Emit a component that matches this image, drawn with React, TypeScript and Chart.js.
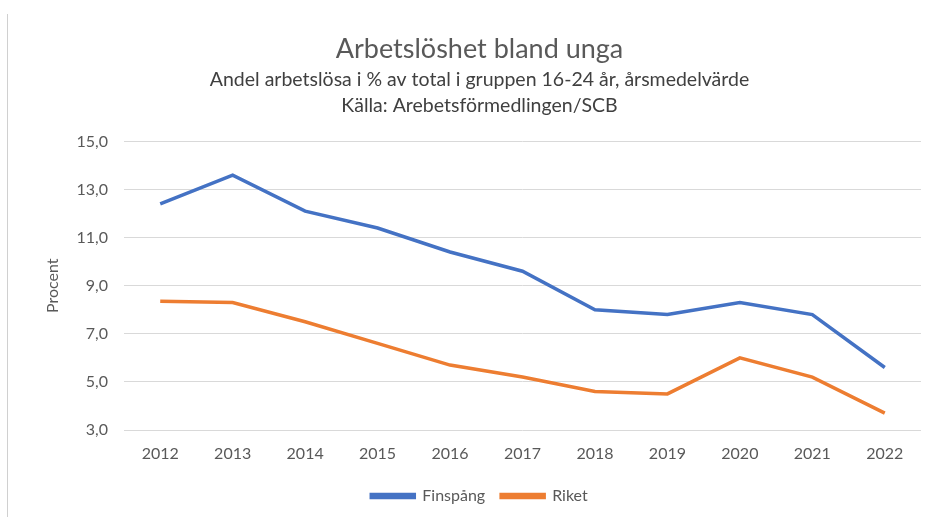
import React, { useEffect, useRef } from "react";
import { Chart, registerables } from "chart.js";

Chart.register(...registerables);

const years = ["2012", "2013", "2014", "2015", "2016", "2017", "2018", "2019", "2020", "2021", "2022"];
const finspang = [12.4, 13.6, 12.1, 11.4, 10.4, 9.6, 8.0, 7.8, 8.3, 7.8, 5.6];
const riket = [8.35, 8.3, 7.5, 6.6, 5.7, 5.2, 4.6, 4.5, 6.0, 5.2, 3.7];
const titleText = "Arbetslöshet bland unga";
const subtitleLines = [
  "Andel arbetslösa i % av total i gruppen 16-24 år, årsmedelvärde",
  "Källa: Arebetsförmedlingen/SCB",
];
const yAxisLabel = "Procent";

const FONT = "Lato, 'Open Sans', sans-serif";
const GREY = "#595959";

export default function App() {
  const ref = useRef<HTMLCanvasElement | null>(null);
  useEffect(() => {
    document.body.style.margin = "0";
    const ctx = ref.current!;
    const chart = new Chart(ctx, {
      type: "line",
      data: {
        labels: years,
        datasets: [
          {
            label: "Finspång",
            data: finspang,
            borderColor: "#4472C4",
            backgroundColor: "#4472C4",
            borderWidth: 3.5,
            pointRadius: 0,
            tension: 0,
          },
          {
            label: "Riket",
            data: riket,
            borderColor: "#ED7D31",
            backgroundColor: "#ED7D31",
            borderWidth: 3.5,
            pointRadius: 0,
            tension: 0,
          },
        ],
      },
      options: {
        animation: false,
        responsive: false,
        maintainAspectRatio: false,
        layout: { padding: { left: 38, right: 10, top: 0, bottom: 3 } },
        plugins: {
          title: {
            display: true,
            text: titleText,
            color: GREY,
            font: { family: FONT, size: 27, weight: "normal", lineHeight: 1.2 },
            padding: { top: 33, bottom: 1 },
          },
          subtitle: {
            display: true,
            text: subtitleLines,
            color: "#404040",
            font: { family: FONT, size: 19.5, weight: "normal", lineHeight: 1.333 },
            padding: { top: 0, bottom: 23 },
          },
          legend: {
            position: "bottom",
            labels: {
              boxWidth: 43,
              boxHeight: 3,
              color: GREY,
              padding: 16,
              font: { family: FONT, size: 16 },
            },
          },
          tooltip: { enabled: false },
        },
        scales: {
          x: {
            offset: true,
            grid: { display: false, drawTicks: false },
            border: { display: false },
            ticks: { color: GREY, font: { family: FONT, size: 16 }, padding: 14, maxRotation: 0 },
            afterFit: (s: any) => {
              s.height = 42;
            },
          },
          y: {
            min: 3,
            max: 15,
            ticks: {
              stepSize: 2,
              color: GREY,
              padding: 16,
              font: { family: FONT, size: 16 },
              callback: (v: any) => Number(v).toFixed(1).replace(".", ","),
            },
            grid: { color: "#d9d9d9", drawTicks: false, lineWidth: 1 },
            border: { display: false },
            title: {
              display: true,
              text: yAxisLabel,
              color: GREY,
              font: { family: FONT, size: 16 },
              padding: { top: 5, bottom: 0 },
            },
            afterFit: (s: any) => {
              s.width = 86;
            },
          },
        },
      },
    });
    return () => chart.destroy();
  }, []);
  return (
    <div style={{ position: "relative", width: 931, height: 517, background: "#fff" }}>
      <div style={{ position: "absolute", left: 7, top: 14, width: 1, height: 503, background: "#d0d0d0" }} />
      <canvas ref={ref} width={931} height={517} style={{ display: "block" }} />
    </div>
  );
}
